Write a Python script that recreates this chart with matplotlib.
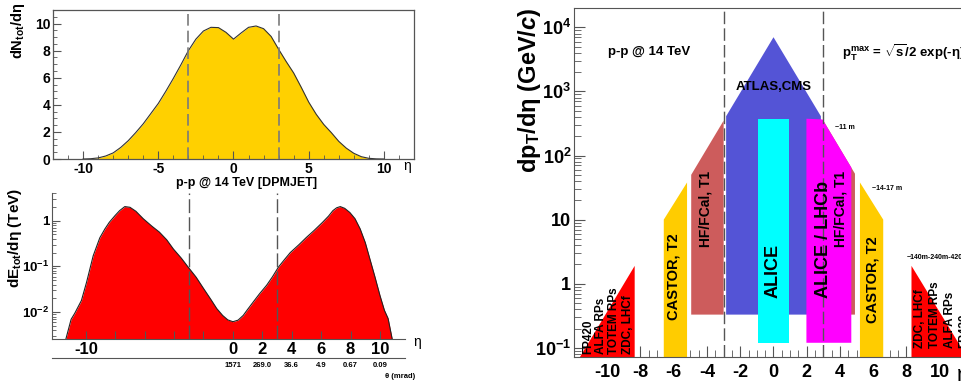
import matplotlib
matplotlib.use("Agg")
import matplotlib.pyplot as plt
from matplotlib.ticker import MultipleLocator, LogLocator, NullFormatter

plt.rcParams['font.family'] = ['Liberation Sans', 'DejaVu Sans']
plt.rcParams['font.weight'] = 'bold'
plt.rcParams['axes.unicode_minus'] = False
plt.rcParams['mathtext.fontset'] = 'custom'
plt.rcParams['mathtext.rm'] = 'Liberation Sans:bold'
plt.rcParams['mathtext.bf'] = 'Liberation Sans:bold'
plt.rcParams['mathtext.it'] = 'Liberation Sans:bold:italic'
plt.rcParams['mathtext.sf'] = 'Liberation Sans:bold'

# ---------------- data ----------------
# top-left: dN/deta (DPMJET, p-p 14 TeV)
eta_n = [-10, -9.5, -9, -8.5, -8, -7.5, -7, -6.5, -6, -5.5, -5, -4.5, -4, -3.5, -3,
         -2.5, -2, -1.5, -1, -0.5, 0, 0.5, 1, 1.5, 2, 2.5, 3, 3.5, 4, 4.5, 5, 5.5,
         6, 6.5, 7, 7.5, 8, 8.5, 9, 9.5, 10]
dn_deta = [0.0, 0.02, 0.08, 0.22, 0.45, 0.85, 1.35, 1.95, 2.6, 3.35, 4.1, 5.0, 5.95,
           6.95, 8.0, 8.85, 9.45, 9.72, 9.7, 9.35, 8.85, 9.3, 9.72, 9.82, 9.62, 9.05,
           8.1, 7.2, 6.35, 5.3, 4.2, 3.3, 2.55, 1.95, 1.3, 0.8, 0.42, 0.17, 0.05,
           0.01, 0.0]

# bottom-left: dE/deta (TeV)
eta_e = [-11.45, -11.0, -10.75, -10.3, -9.95, -9.5, -9.05, -8.7, -8.4, -8.0, -7.7,
         -7.35, -7.0, -6.6, -6.1, -5.5, -5.0, -4.5, -4.05, -3.5, -3.05, -2.5, -2.0,
         -1.5, -1.1, -0.7, -0.35, 0.0, 0.35, 0.7, 1.0, 1.4, 1.8, 2.3, 2.7, 3.1, 3.5,
         3.9, 4.5, 5.0, 5.5, 6.1, 6.5, 6.8, 7.05, 7.3, 7.6, 7.95, 8.3, 8.65, 9.0,
         9.3, 9.65, 10.0, 10.3, 10.55, 10.9]
de_deta = [0.002, 0.007, 0.0095, 0.018, 0.045, 0.17, 0.42, 0.66, 0.92, 1.3, 1.65,
           2.02, 1.95, 1.6, 1.1, 0.75, 0.56, 0.38, 0.24, 0.15, 0.097, 0.058, 0.033,
           0.019, 0.012, 0.0085, 0.0068, 0.0062, 0.0067, 0.0085, 0.0115, 0.017,
           0.025, 0.039, 0.06, 0.097, 0.14, 0.2, 0.3, 0.43, 0.6, 0.92, 1.25, 1.65,
           1.9, 2.02, 1.85, 1.5, 1.1, 0.66, 0.33, 0.15, 0.06, 0.023, 0.011, 0.0073,
           0.002]
theta_eta = [0, 2, 4, 6, 8, 10]
theta_labels = ["1571", "269.0", "36.6", "4.9", "0.67", "0.09"]

# right: detector acceptance regions (eta, pT) polygon vertices
atlas_eta = [-2.85, -2.85, 0.0, 2.85, 2.85]
atlas_pt = [0.33, 410, 7000, 410, 0.33]
hfl_eta = [-4.95, -4.95, -3.0, -3.0]
hfl_pt = [0.33, 50, 350, 0.33]
hfr_eta = [3.0, 3.0, 4.9, 4.9]
hfr_pt = [0.33, 350, 52, 0.33]
alice_eta = [-0.92, -0.92, 0.92, 0.92]
alice_pt = [0.12, 375, 375, 0.12]
lhcb_eta = [1.98, 1.98, 2.95, 4.68, 4.68]
lhcb_pt = [0.12, 375, 365, 65, 0.12]
castl_eta = [-6.6, -6.6, -5.2, -5.2]
castl_pt = [0.05, 10, 38, 0.05]
castr_eta = [5.2, 5.2, 6.6, 6.6]
castr_pt = [0.05, 38, 10, 0.05]
fwdl_eta = [-11.64, -8.35, -8.35]
fwdl_pt = [0.072, 1.9, 0.05]
fwdr_eta = [8.3, 8.3, 11.64]
fwdr_pt = [0.05, 1.9, 0.072]

W, H = 962, 387
fig = plt.figure(figsize=(W / 100, H / 100), dpi=100)


def rect(x0, y0, x1, y1):
    return [x0 / W, 1 - y1 / H, (x1 - x0) / W, (y1 - y0) / H]


frame_c = '#555555'
dash_c = '#7a7a7a'

# ---------------- top-left ----------------
ax1 = fig.add_axes(rect(53, 10, 414, 159))
ax1.fill_between(eta_n, dn_deta, 0, color='#FFD000', lw=0, zorder=1)
ax1.plot(eta_n, dn_deta, color='#333333', lw=0.8, zorder=2)
for x in (-3, 3):
    ax1.axvline(x, color=dash_c, lw=1.2, ls=(0, (7, 3)), zorder=3)
ax1.set_xlim(-12, 12)
ax1.set_ylim(0, 11)
ax1.set_xticks([-10, -5, 0, 5, 10])
ax1.xaxis.set_minor_locator(MultipleLocator(1))
ax1.set_yticks([0, 2, 4, 6, 8, 10])
ax1.yaxis.set_minor_locator(MultipleLocator(0.5))
ax1.tick_params(which='both', direction='in', labelsize=10, pad=2, color=frame_c)
ax1.tick_params(which='major', length=6)
ax1.tick_params(which='minor', length=3)
for s in ax1.spines.values():
    s.set_color(frame_c)
    s.set_linewidth(0.9)
fig.text(247 / W, 1 - 183 / H, "p-p @ 14 TeV [DPMJET]", ha='center', va='center', fontsize=9)
fig.text(407 / W, 1 - 166 / H, "η", ha='center', va='center', fontsize=10, fontweight='normal')
fig.text(18 / W, 1 - 31 / H, r"dN$_{\mathrm{tot}}$/dη", rotation=90, ha='center', va='center',
         fontsize=10.5)

# ---------------- bottom-left ----------------
ax2 = fig.add_axes(rect(52, 193, 405, 339))
ax2.set_yscale('log')
ax2.fill_between(eta_e, de_deta, 1e-4, color='#FF0000', lw=0, zorder=1)
ax2.plot(eta_e, de_deta, color='#222222', lw=0.8, zorder=2)
for x in (-3, 3):
    ax2.axvline(x, color='#555555', lw=1.0, ls=(0, (10, 3)), zorder=3)
ax2.set_xlim(-12.3, 11.7)
ax2.set_ylim(0.0026, 4)
ax2.spines['top'].set_visible(False)
ax2.spines['right'].set_visible(False)
for s in ('left', 'bottom'):
    ax2.spines[s].set_color(frame_c)
xt = [-10, -8, -6, -4, -2, 0, 2, 4, 6, 8, 10]
ax2.set_xticks(xt, ["-10", "", "", "", "", "0", "2", "4", "6", "8", "10"])
ax2.set_yticks([0.01, 0.1, 1], [r"$10^{-2}$", r"$10^{-1}$", "1"])
ax2.yaxis.set_minor_locator(LogLocator(base=10, subs=range(2, 10)))
ax2.yaxis.set_minor_formatter(NullFormatter())
ax2.tick_params(which='both', direction='in', labelsize=9.5, pad=2, color=frame_c)
ax2.tick_params(axis='x', labelsize=12)
ax2.tick_params(which='major', length=6)
ax2.tick_params(which='minor', length=3)
sec = ax2.secondary_xaxis(-19 / 146)
sec.set_xticks(theta_eta, theta_labels)
sec.tick_params(which='major', length=0, labelsize=5.5, pad=3)
sec.set_xticks([0], minor=True)
sec.tick_params(which='minor', direction='in', length=5, color=frame_c)
sec.spines['bottom'].set_color(frame_c)
fig.text(385 / W, 1 - 376 / H, "θ (mrad)", ha='left', va='center', fontsize=5.5)
fig.text(417 / W, 1 - 342 / H, "η", ha='center', va='center', fontsize=10, fontweight='normal')
fig.text(15 / W, 1 - 238 / H, r"dE$_{\mathrm{tot}}$/dη (TeV)", rotation=90, ha='center',
         va='center', fontsize=11)

# ---------------- right ----------------
ax3 = fig.add_axes(rect(574, 8, 973, 357))
ax3.set_yscale('log')
ax3.set_xlim(-12, 12)
ax3.set_ylim(0.072, 2e4)
ax3.fill(atlas_eta, atlas_pt, color='#5454D6', lw=0, zorder=1)
ax3.fill(hfl_eta, hfl_pt, color='#CD5C5C', lw=0, zorder=1)
ax3.fill(hfr_eta, hfr_pt, color='#CD5C5C', lw=0, zorder=1)
ax3.fill(alice_eta, alice_pt, color='#00FFFF', lw=0, zorder=2)
ax3.fill(lhcb_eta, lhcb_pt, color='#FF00FF', lw=0, zorder=2)
ax3.fill(castl_eta, castl_pt, color='#FFCC00', lw=0, zorder=2)
ax3.fill(castr_eta, castr_pt, color='#FFCC00', lw=0, zorder=2)
ax3.fill(fwdl_eta, fwdl_pt, color='#FF0000', lw=0, zorder=2)
ax3.fill(fwdr_eta, fwdr_pt, color='#FF0000', lw=0, zorder=2)
for x in (-3, 3):
    ax3.axvline(x, color='#555555', lw=1.0, ls=(0, (9, 3)), zorder=3)
ax3.set_xticks(list(range(-10, 11, 2)))
ax3.xaxis.set_minor_locator(MultipleLocator(0.5))
ax3.set_yticks([0.1, 1, 10, 100, 1000, 10000],
               [r"$10^{-1}$", "1", "10", r"$10^{2}$", r"$10^{3}$", r"$10^{4}$"])
ax3.yaxis.set_minor_locator(LogLocator(base=10, subs=range(2, 10)))
ax3.yaxis.set_minor_formatter(NullFormatter())
ax3.tick_params(which='both', direction='in', labelsize=13, color=frame_c)
ax3.tick_params(axis='y', pad=2)
ax3.tick_params(axis='x', pad=5)
ax3.tick_params(which='major', length=8)
ax3.tick_params(which='minor', length=5)
for s in ax3.spines.values():
    s.set_color(frame_c)

fig.text(530 / W, 1 - 90 / H, r"dp$_{\mathrm{T}}$/dη (GeV/$c$)", rotation=90, ha='center',
         va='center', fontsize=17)

ax3.text(-9.96, 4070, "p-p @ 14 TeV", ha='left', va='center', fontsize=9.5, zorder=5)
ax3.text(4.14, 4000, r"p$_{\mathrm{T}}^{\mathrm{max}}$ = $\sqrt{\mathrm{s}}$/2 exp(-η)",
         ha='left', va='center', fontsize=9.5, zorder=5)
ax3.text(0, 1160, "ATLAS,CMS", ha='center', va='center', fontsize=9.5, zorder=5)
ax3.text(3.72, 277, "~11 m", ha='left', va='center', fontsize=5, zorder=5)
ax3.text(5.94, 31, "~14-17 m", ha='left', va='center', fontsize=5, zorder=5)
ax3.text(8.04, 2.6, "~140m-240m-420m", ha='left', va='center', fontsize=5, zorder=5)

rot = dict(rotation=90, ha='center', va='bottom', zorder=5)
ax3.text(-6.0, 0.27, "CASTOR, T2", fontsize=10.5, **rot)
ax3.text(5.94, 0.245, "CASTOR, T2", fontsize=10.5, **rot)
ax3.text(-4.08, 3.7, "HF/FCal, T1", fontsize=10, **rot)
ax3.text(4.02, 3.7, "HF/FCal, T1", fontsize=10, **rot)
ax3.text(0.0, 0.6, "ALICE", fontsize=13, **rot)
ax3.text(3.0, 0.6, "ALICE / LHCb", fontsize=13, **rot)

for x, lab in zip([-11.16, -10.38, -9.6, -8.76], ["FP420", "ALFA RPs", "TOTEM RPs", "ZDC, LHCf"]):
    ax3.text(x, 0.08, lab, fontsize=8.5, **rot)
for x, lab in zip([8.82, 9.72, 10.62, 11.5], ["ZDC, LHCf", "TOTEM RPs", "ALFA RPs", "FP420"]):
    ax3.text(x, 0.1, lab, fontsize=8.5, **rot)

fig.text(957 / W, 1 - 376 / H, "η", ha='left', va='center', fontsize=16, fontweight='normal')

fig.savefig("out.png", dpi=100)
